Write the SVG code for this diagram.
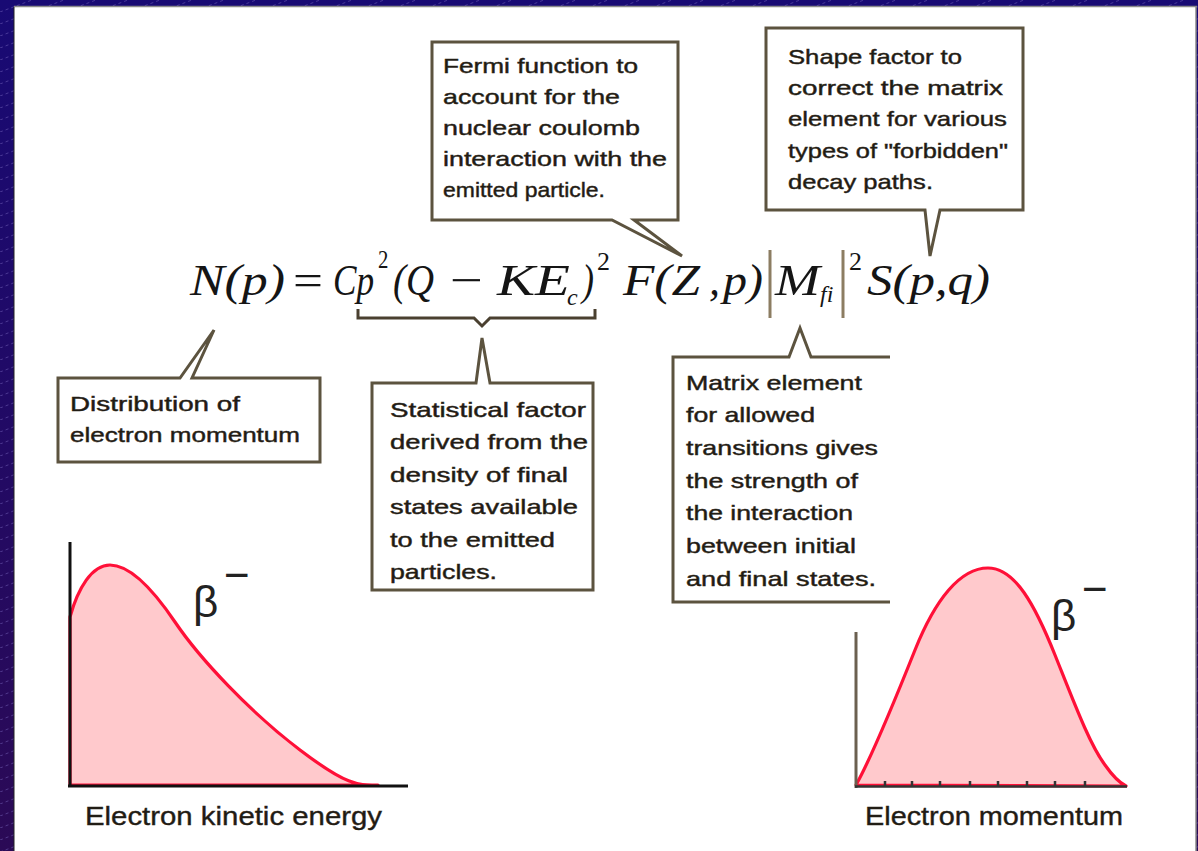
<svg xmlns="http://www.w3.org/2000/svg" width="1198" height="851" viewBox="0 0 1198 851">
<defs>
<linearGradient id="bg" x1="0" y1="0" x2="0" y2="1">
<stop offset="0" stop-color="#180a74"/>
<stop offset="1" stop-color="#2b0a56"/>
</linearGradient>
<pattern id="hatch" width="32" height="12" patternUnits="userSpaceOnUse">
<line x1="0" y1="12" x2="32" y2="0" stroke="#7a68c0" stroke-width="0.8" stroke-dasharray="3 3" opacity="0.6"/>
</pattern>
<style>
.box{fill:#fff;stroke:#5c533f;stroke-width:3;stroke-linejoin:miter}
.lbl{font-family:"Liberation Sans",Arial,sans-serif;font-size:21px;fill:#1f1b14;stroke:#2a2418;stroke-width:0.45}
.eq{font-family:"Liberation Serif","Times New Roman",serif;font-size:44px;font-style:italic;fill:#151515}
.up{font-style:normal}
.sup{font-family:"Liberation Serif","Times New Roman",serif;font-size:26px;font-style:normal;fill:#151515}
.sub{font-family:"Liberation Serif","Times New Roman",serif;font-size:24px;font-style:italic;fill:#151515}
.curve{fill:#ffc9cc;stroke:#ff1038;stroke-width:3.2;stroke-linejoin:round}
.axis{fill:none;stroke:#111;stroke-width:3}
.beta{font-family:"Liberation Sans",Arial,sans-serif;font-size:44px;fill:#222}
.cap{font-family:"Liberation Sans",Arial,sans-serif;font-size:26px;fill:#1f1b14;stroke:#2a2418;stroke-width:0.4}
.conn{fill:none;stroke:#4a4030;stroke-width:3}
</style>
</defs>
<rect x="0" y="0" width="1198" height="851" fill="url(#bg)"/>
<rect x="0" y="0" width="1198" height="851" fill="url(#hatch)"/>
<rect x="14" y="7" width="1182" height="844" fill="#fff"/>
<line x1="14" y1="6.5" x2="1197" y2="6.5" stroke="#8a8a8a" stroke-width="1.5"/>
<line x1="1196" y1="6" x2="1196" y2="851" stroke="#8a8a8a" stroke-width="1.5"/>
<line x1="14" y1="7" x2="14" y2="851" stroke="#222" stroke-width="1"/>

<g id="equation">
<text class="eq" x="190" y="295" textLength="95" lengthAdjust="spacingAndGlyphs">N(p)</text>
<text class="eq up" x="293" y="295" textLength="30" lengthAdjust="spacingAndGlyphs">=</text>
<text class="eq" transform="translate(333,295) scale(0.8,1)" x="0" y="0">Cp<tspan class="sup" dx="5" y="-27">2</tspan></text>
<text class="eq" x="393" y="295" textLength="41" lengthAdjust="spacingAndGlyphs">(Q</text>
<text class="eq up" x="450" y="295" textLength="33" lengthAdjust="spacingAndGlyphs">−</text>
<text class="eq" x="497" y="295" textLength="73" lengthAdjust="spacingAndGlyphs">KE</text>
<text class="sub" x="567" y="305">c</text>
<text class="eq" x="582" y="295" textLength="12" lengthAdjust="spacingAndGlyphs">)</text>
<text class="sup" x="597" y="270">2</text>
<text class="eq" x="623" y="295" textLength="77" lengthAdjust="spacingAndGlyphs">F(Z</text>
<text class="eq" x="709" y="295">,</text>
<text class="eq" x="723" y="295" textLength="40" lengthAdjust="spacingAndGlyphs">p)</text>
<line x1="770" y1="250" x2="770" y2="318" stroke="#8c7d62" stroke-width="3"/>
<text class="eq" x="775" y="295" textLength="45" lengthAdjust="spacingAndGlyphs">M</text>
<text class="sub" x="820" y="302" font-size="22">fi</text>
<line x1="843" y1="250" x2="843" y2="318" stroke="#8c7d62" stroke-width="3"/>
<text class="sup" x="849" y="270">2</text>
<text class="eq" x="867" y="295" textLength="123" lengthAdjust="spacingAndGlyphs">S(p,q)</text>
</g>

<g id="connectors">
<path class="conn" d="M358,309 V318 H474 L482,326 L490,318 H595 V309"/>
</g>

<g id="fermi">
<path class="box" d="M432,42 H678 V220 H634 L682,256 L612,220 H432 Z"/>
<text class="lbl" x="443" y="73" textLength="195" lengthAdjust="spacingAndGlyphs">Fermi function to</text>
<text class="lbl" x="443" y="104" textLength="177" lengthAdjust="spacingAndGlyphs">account for the</text>
<text class="lbl" x="443" y="135" textLength="197" lengthAdjust="spacingAndGlyphs">nuclear coulomb</text>
<text class="lbl" x="443" y="166" textLength="224" lengthAdjust="spacingAndGlyphs">interaction with the</text>
<text class="lbl" x="443" y="197" textLength="162" lengthAdjust="spacingAndGlyphs">emitted particle.</text>
</g>

<g id="shape">
<path class="box" d="M766,28 H1023 V210 H940 L930,256 L925,210 H766 Z"/>
<text class="lbl" x="788" y="64" textLength="174" lengthAdjust="spacingAndGlyphs">Shape factor to</text>
<text class="lbl" x="788" y="95" textLength="215" lengthAdjust="spacingAndGlyphs">correct the matrix</text>
<text class="lbl" x="788" y="126" textLength="219" lengthAdjust="spacingAndGlyphs">element for various</text>
<text class="lbl" x="788" y="158" textLength="220" lengthAdjust="spacingAndGlyphs">types of "forbidden"</text>
<text class="lbl" x="788" y="189" textLength="145" lengthAdjust="spacingAndGlyphs">decay paths.</text>
</g>

<g id="distribution">
<path class="box" d="M58,378 H180 L214,330 L192,378 H320 V462 H58 Z"/>
<text class="lbl" x="70" y="411" textLength="170" lengthAdjust="spacingAndGlyphs">Distribution of</text>
<text class="lbl" x="70" y="442" textLength="230" lengthAdjust="spacingAndGlyphs">electron momentum</text>
</g>

<g id="statistical">
<path class="box" d="M372,383 H476 L482,338 L490,383 H593 V590 H372 Z"/>
<text class="lbl" x="390" y="417" textLength="196" lengthAdjust="spacingAndGlyphs">Statistical factor</text>
<text class="lbl" x="390" y="449" textLength="198" lengthAdjust="spacingAndGlyphs">derived from the</text>
<text class="lbl" x="390" y="482" textLength="178" lengthAdjust="spacingAndGlyphs">density of final</text>
<text class="lbl" x="390" y="514" textLength="188" lengthAdjust="spacingAndGlyphs">states available</text>
<text class="lbl" x="390" y="547" textLength="165" lengthAdjust="spacingAndGlyphs">to the emitted</text>
<text class="lbl" x="390" y="579" textLength="107" lengthAdjust="spacingAndGlyphs">particles.</text>
</g>

<g id="matrix">
<path d="M890,357 H673 V602 H890 Z" fill="#fff"/>
<path class="box" style="fill:none" d="M890,357 H811 L800,328 L789,357 H673 V602 H890"/>
<text class="lbl" x="686" y="390" textLength="176" lengthAdjust="spacingAndGlyphs">Matrix element</text>
<text class="lbl" x="686" y="422" textLength="129" lengthAdjust="spacingAndGlyphs">for allowed</text>
<text class="lbl" x="686" y="455" textLength="192" lengthAdjust="spacingAndGlyphs">transitions gives</text>
<text class="lbl" x="686" y="488" textLength="172" lengthAdjust="spacingAndGlyphs">the strength of</text>
<text class="lbl" x="686" y="520" textLength="167" lengthAdjust="spacingAndGlyphs">the interaction</text>
<text class="lbl" x="686" y="553" textLength="170" lengthAdjust="spacingAndGlyphs">between initial</text>
<text class="lbl" x="686" y="586" textLength="190" lengthAdjust="spacingAndGlyphs">and final states.</text>
</g>

<g id="plot-energy">
<path class="curve" d="M70,617 C78,588 92,565 110,565 C128,565 150,585 175,622 S250,712 300,750 S360,785 378,785 L70,785 Z"/>
<line x1="70" y1="542" x2="70" y2="787" class="axis"/>
<line x1="68" y1="786" x2="408" y2="786" class="axis"/>
<text class="beta" x="193" y="617">β</text>
<text class="beta" x="224" y="590" font-size="34">−</text>
<text class="cap" x="85" y="825" textLength="297" lengthAdjust="spacingAndGlyphs">Electron kinetic energy</text>
</g>

<g id="plot-momentum">
<path class="curve" d="M856,785 C870,760 895,700 915,650 C935,600 960,568 988,568 C1015,568 1035,605 1055,655 C1075,705 1090,745 1105,765 C1112,775 1118,782 1126,786 Z"/>
<line x1="856" y1="632" x2="856" y2="788" stroke="#6b6050" stroke-width="3"/>
<path d="M855,786.5 H1127 M885,787 V781 M912,787 V781 M940,787 V781 M970,787 V781 M998,787 V781 M1027,787 V781 M1055,787 V781 M1085,787 V781" fill="none" stroke="#333" stroke-width="2.5"/>
<text class="beta" x="1051" y="631">β</text>
<text class="beta" x="1082" y="604" font-size="34">−</text>
<text class="cap" x="865" y="825" textLength="258" lengthAdjust="spacingAndGlyphs">Electron momentum</text>
</g>
</svg>
